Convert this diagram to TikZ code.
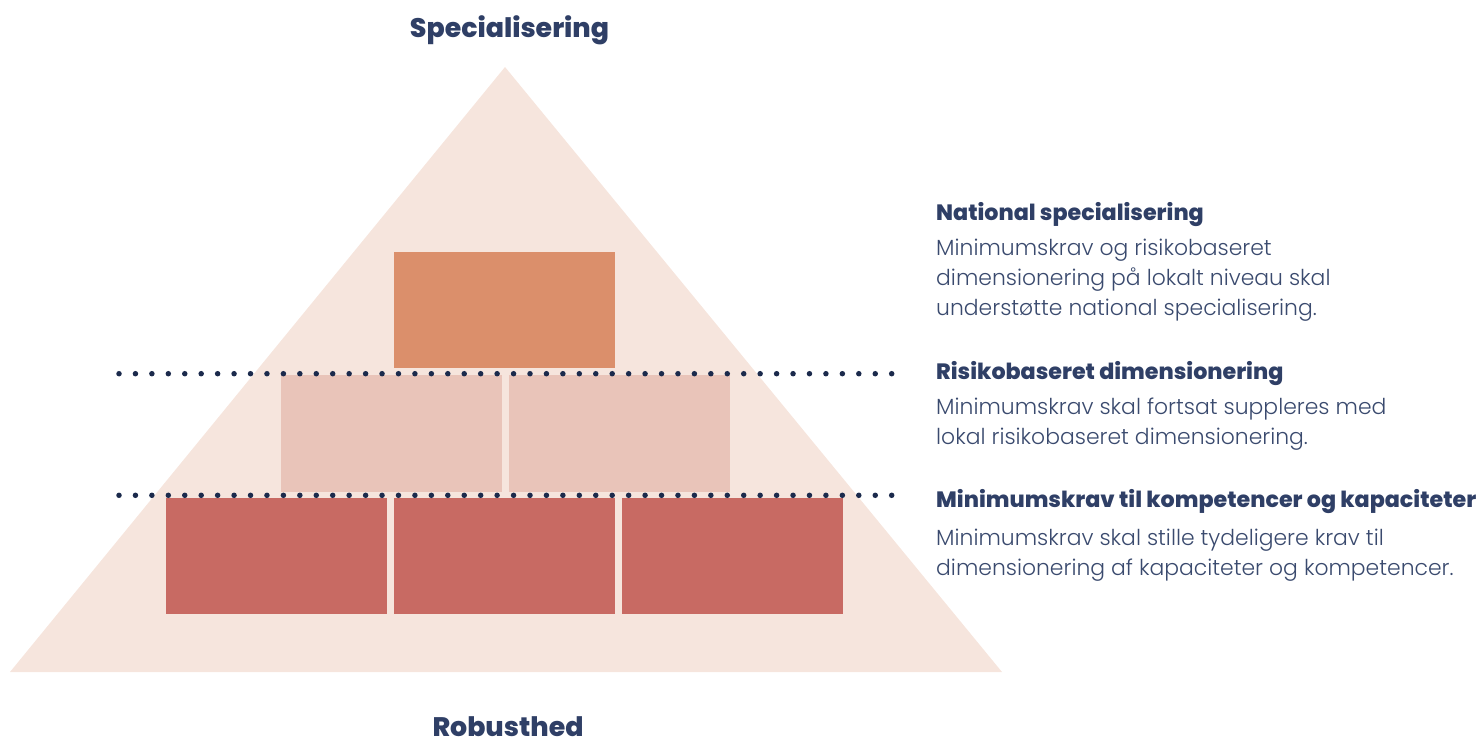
\documentclass[tikz,border=0pt]{standalone}
\usepackage{fontspec}
\setmainfont{Poppins}
\newfontfamily\lightfont{Poppins Light}
\newfontfamily\heavyfont{Poppins ExtraBold}
\usetikzlibrary{positioning}

% colours of the pyramid
\definecolor{pyramidbg}{HTML}{F6E5DD}
\definecolor{toporange}{HTML}{DB8F6B}
\definecolor{midpink}{HTML}{E9C4B9}
\definecolor{lowred}{HTML}{C86A63}
\definecolor{headnavy}{HTML}{2F3F66}
\definecolor{bodynavy}{HTML}{3A4A6E}
\definecolor{dotnavy}{HTML}{1B2A4C}

\tikzset{
  brick/.style={minimum width=221pt, minimum height=116pt, inner sep=0pt},
  levelhead/.style={anchor=base west, inner sep=0pt, text=headnavy,
    font=\fontsize{22.2}{30}\selectfont\heavyfont},
  % multi-line body: base anchor sits on the last line
  levelbody/.style={anchor=base west, inner sep=0pt, text=bodynavy, align=left,
    font=\fontsize{21.9}{30}\selectfont\lightfont},
  axislabel/.style={anchor=base, inner sep=0pt, text=headnavy,
    font=\fontsize{26.8}{30}\selectfont\heavyfont},
  dotline/.style={dotnavy, line width=5.5pt, line cap=round,
    dash pattern=on 0pt off 16.44pt}
}

\begin{document}
\begin{tikzpicture}[x=1pt, y=-1pt]
\useasboundingbox (0,0) rectangle (1480,742);

% the pyramid itself
\fill[pyramidbg] (10,672) -- (505,67) -- (1002,672) -- cycle;

% top level
\node[brick, fill=toporange] (top) at (504.5,310) {};

% middle level
\node[brick, fill=midpink, minimum height=117pt] (midL) at (391.5,433.5) {};
\node[brick, fill=midpink, minimum height=117pt] (midR) at (619.5,433.5) {};

% bottom level
\node[brick, fill=lowred] (lowL) at (276.5,556) {};
\node[brick, fill=lowred] (lowM) at (504.5,556) {};
\node[brick, fill=lowred] (lowR) at (732.5,556) {};

% dotted separators
\coordinate (sepA1) at (119,373.7);
\coordinate (sepA2) at (893,373.7);
\coordinate (sepB1) at (119,495.3);
\coordinate (sepB2) at (893,495.3);
\draw[dotline] (sepA1) -- (sepA2);
\draw[dotline] (sepB1) -- (sepB2);

% top and bottom labels
\node[axislabel] (spec) at (509.5,37.3) {Specialisering};
\node[axislabel] (robust) at (508,736) {Robusthed};

% descriptions of the levels
\node[levelhead] (natHead) at (936,220) {National specialisering};
\node[levelbody] (natBody) at (936,315) {Minimumskrav og risikobaseret\\dimensionering på lokalt niveau skal\\understøtte national specialisering.};

\node[levelhead] (riskHead) at (936,379) {Risikobaseret dimensionering};
\node[levelbody] (riskBody) at (936,444) {Minimumskrav skal fortsat suppleres med\\lokal risikobaseret dimensionering.};

\node[levelhead] (minHead) at (936,507) {Minimumskrav til kompetencer og kapaciteter};
\node[levelbody] (minBody) at (936,575) {Minimumskrav skal stille tydeligere krav til\\dimensionering af kapaciteter og kompetencer.};
\end{tikzpicture}
\end{document}
